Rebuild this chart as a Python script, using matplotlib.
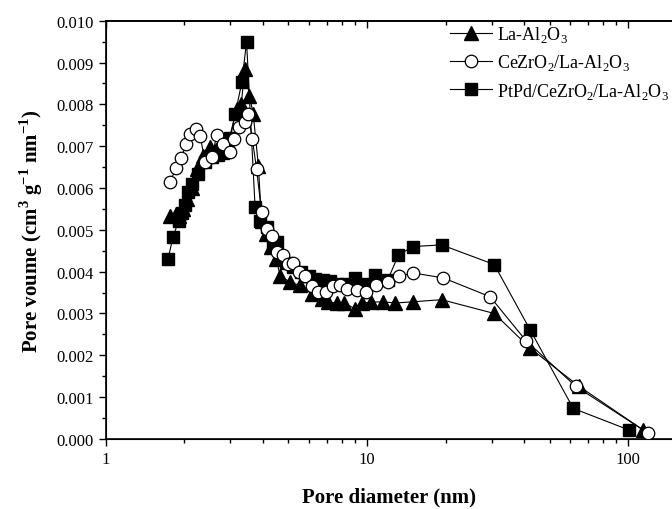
import matplotlib.pyplot as plt
from matplotlib.ticker import MultipleLocator, LogLocator, NullFormatter, FixedLocator

plt.rcParams['font.family'] = ['Liberation Serif', 'DejaVu Serif']
plt.rcParams['mathtext.fontset'] = 'custom'
plt.rcParams['mathtext.rm'] = 'Liberation Serif'
plt.rcParams['mathtext.bf'] = 'Liberation Serif:bold'

# La-Al2O3 (triangles)
x_la = [1.76, 1.85, 1.90, 1.97, 2.04, 2.13, 2.23, 2.36, 2.50, 2.65, 2.78, 2.95,
        3.17, 3.30, 3.41, 3.55, 3.67, 3.84, 3.95, 4.10, 4.30, 4.50, 4.65, 5.08,
        5.54, 6.14, 6.70, 7.10, 7.65, 8.20, 9.00, 9.54, 10.4, 11.5, 12.8, 15.0,
        19.3, 30.7, 42.1, 64.8, 114]
y_la = [0.00534, 0.00538, 0.00534, 0.00550, 0.00574, 0.00600, 0.00645, 0.00677,
        0.00697, 0.00690, 0.00685, 0.00710, 0.00789, 0.00800, 0.00885, 0.00820,
        0.00777, 0.00653, 0.00520, 0.00490, 0.00460, 0.00430, 0.00390, 0.00375,
        0.00367, 0.00347, 0.00335, 0.00327, 0.00325, 0.00325, 0.00311, 0.00325,
        0.00327, 0.00328, 0.00325, 0.00328, 0.00333, 0.00300, 0.00217, 0.00126,
        0.000215]

# CeZrO2/La-Al2O3 (circles)
x_ce = [1.76, 1.86, 1.94, 2.03, 2.11, 2.21, 2.30, 2.40, 2.55, 2.66, 2.80, 2.99,
        3.10, 3.25, 3.41, 3.51, 3.64, 3.78, 3.95, 4.13, 4.32, 4.51, 4.78, 5.00,
        5.20, 5.50, 5.79, 6.14, 6.50, 6.97, 7.39, 7.88, 8.41, 9.13, 9.90, 10.8,
        12.0, 13.3, 15.0, 19.6, 29.6, 40.6, 62.9, 119.3]
y_ce = [0.00614, 0.00647, 0.00671, 0.00704, 0.00729, 0.00741, 0.00725, 0.00661,
        0.00673, 0.00727, 0.00705, 0.00685, 0.00717, 0.00745, 0.00757, 0.00777,
        0.00717, 0.00645, 0.00542, 0.00502, 0.00486, 0.00448, 0.00440, 0.00418,
        0.00420, 0.00398, 0.00390, 0.00365, 0.00352, 0.00352, 0.00365, 0.00369,
        0.00359, 0.00355, 0.00352, 0.00367, 0.00375, 0.00389, 0.00397, 0.00385,
        0.00340, 0.00235, 0.00126, 0.000136]

# PtPd/CeZrO2/La-Al2O3 (squares)
x_pt = [1.73, 1.81, 1.90, 1.96, 2.02, 2.07, 2.13, 2.26, 2.40, 2.55, 2.70, 2.85,
        3.00, 3.13, 3.32, 3.46, 3.73, 3.90, 4.13, 4.36, 4.51, 4.90, 5.20, 5.60,
        6.00, 6.30, 6.80, 7.20, 7.70, 8.30, 9.00, 9.80, 10.7, 12.0, 13.2, 15.0,
        19.3, 30.7, 42.1, 61.6, 100.6]
y_pt = [0.00430, 0.00482, 0.00522, 0.00540, 0.00560, 0.00590, 0.00610, 0.00633,
        0.00661, 0.00673, 0.00680, 0.00700, 0.00720, 0.00777, 0.00853, 0.00950,
        0.00554, 0.00520, 0.00506, 0.00460, 0.00470, 0.00420, 0.00410, 0.00400,
        0.00390, 0.00383, 0.00380, 0.00378, 0.00370, 0.00370, 0.00384, 0.00370,
        0.00392, 0.00380, 0.00440, 0.00460, 0.00464, 0.00417, 0.00261, 0.00073,
        0.000215]

fig = plt.figure(figsize=(6.72, 5.10), dpi=100)
ax = fig.add_axes([0.1573, 0.1373, 0.8427, 0.8202])

ax.plot(x_la, y_la, '-^', color='black', lw=0.8, ms=10, mfc='black',
        label='La-Al$_2$O$_3$', zorder=3)
ax.plot(x_ce, y_ce, '-o', color='black', lw=0.8, ms=9, mfc='white', mew=0.9,
        label='CeZrO$_2$/La-Al$_2$O$_3$', zorder=5)
ax.plot(x_pt, y_pt, '-s', color='black', lw=0.8, ms=8.5, mfc='black',
        label='PtPd/CeZrO$_2$/La-Al$_2$O$_3$', zorder=4)

ax.set_xscale('log')
ax.set_xlim(1, 147)
ax.set_ylim(0, 0.010)

ax.yaxis.set_major_locator(MultipleLocator(0.001))
ax.yaxis.set_minor_locator(MultipleLocator(0.0005))
ax.yaxis.set_major_formatter(plt.FormatStrFormatter('%.3f'))
ax.xaxis.set_major_locator(FixedLocator([1, 10, 100]))
ax.xaxis.set_major_formatter(plt.FuncFormatter(lambda v, p: '%g' % v))
ax.xaxis.set_minor_locator(LogLocator(base=10, subs=range(2, 10)))
ax.xaxis.set_minor_formatter(NullFormatter())

ax.tick_params(axis='both', which='major', labelsize=12, direction='out',
               length=5, width=1)
ax.tick_params(axis='both', which='minor', direction='out', length=3, width=1)
for sp in ax.spines.values():
    sp.set_linewidth(1.2)
ax.spines['right'].set_visible(False)

# top axis: ticks pointing into the plot, no labels
top = ax.twiny()
top.set_xscale('log')
top.set_xlim(ax.get_xlim())
top.xaxis.set_major_locator(FixedLocator([1, 10, 100]))
top.xaxis.set_minor_locator(LogLocator(base=10, subs=range(2, 10)))
top.tick_params(axis='x', which='major', direction='in', length=5, width=1,
                labeltop=False)
top.tick_params(axis='x', which='minor', direction='in', length=3, width=1)
top.spines['right'].set_visible(False)
top.spines['top'].set_linewidth(1.2)

ax.set_xlabel('Pore diameter (nm)', fontsize=15, fontweight='bold', labelpad=14)
ax.set_ylabel('Pore voume (cm$^\\mathbf{3}$ g$^\\mathbf{-1}$ nm$^\\mathbf{-1}$)',
              fontsize=15, fontweight='bold', labelpad=8)

ax.legend(loc='upper right', bbox_to_anchor=(1.0014, 1.0), frameon=False,
          fontsize=13, handlelength=2.3, handletextpad=0.3, labelspacing=0.45,
          borderaxespad=0.0, borderpad=0.2)

fig.savefig('out.png', dpi=100)
